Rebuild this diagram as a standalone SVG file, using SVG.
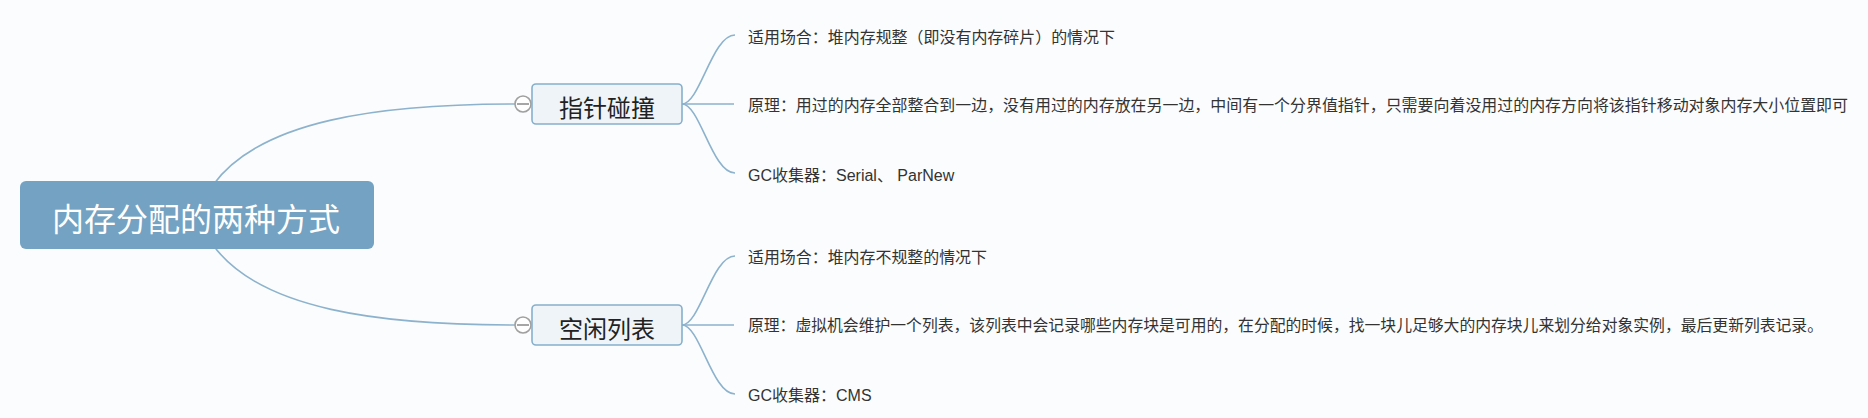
<svg xmlns="http://www.w3.org/2000/svg" width="1868" height="418" viewBox="0 0 1868 418">
<style>
.bg{fill:#fbfcfd}
.conn{fill:none;stroke:#8db2cd;stroke-width:1.6}
.root{fill:#74a2c2}
.roottext{font-family:"Noto Sans CJK SC","Liberation Sans",sans-serif;font-size:32px;fill:#ffffff}
.topic{fill:#eef4f8;stroke:#86afcc;stroke-width:1.6}
.topictext{font-family:"Noto Sans CJK SC","Liberation Sans",sans-serif;font-size:24px;fill:#222222}
.sub{font-family:"Liberation Sans","Noto Sans CJK SC",sans-serif;font-size:16px;fill:#333333}
.fold{fill:#ffffff;stroke:#a0a0a0;stroke-width:1.6}
.foldline{stroke:#909090;stroke-width:1.6}
</style>
<rect class="bg" x="0" y="0" width="1868" height="418"/>
<g id="connectors">
<path class="conn" d="M 213 185 C 260 120, 380 104, 515 104"/>
<path class="conn" d="M 213 245 C 260 310, 380 325, 515 325"/>
<path class="conn" d="M 682 104 C 700 104, 712 35, 735 35"/>
<path class="conn" d="M 682 104 L 734 104"/>
<path class="conn" d="M 682 104 C 700 104, 712 173, 735 173"/>
<path class="conn" d="M 682 325 C 700 325, 712 256, 735 256"/>
<path class="conn" d="M 682 325 L 734 325"/>
<path class="conn" d="M 682 325 C 700 325, 712 394, 735 394"/>
</g>
<g id="root">
<rect class="root" x="20" y="181" width="354" height="68" rx="6"/>
<text class="roottext" x="196" y="231" text-anchor="middle">内存分配的两种方式</text>
</g>
<g id="node-pointer">
<circle class="fold" cx="523" cy="104" r="8"/>
<line class="foldline" x1="517" y1="104" x2="529" y2="104"/>
<rect class="topic" x="532" y="84" width="150" height="40" rx="4"/>
<text class="topictext" x="607" y="117" text-anchor="middle">指针碰撞</text>
</g>
<g id="node-freelist">
<circle class="fold" cx="523" cy="325" r="8"/>
<line class="foldline" x1="517" y1="325" x2="529" y2="325"/>
<rect class="topic" x="532" y="305" width="150" height="40" rx="4"/>
<text class="topictext" x="607" y="338" text-anchor="middle">空闲列表</text>
</g>
<g id="leaf-1">
<text class="sub" x="748" y="43" textLength="367" lengthAdjust="spacingAndGlyphs">适用场合：堆内存规整（即没有内存碎片）的情况下</text>
</g>
<g id="leaf-2">
<text class="sub" x="748" y="111" textLength="1100" lengthAdjust="spacingAndGlyphs">原理：用过的内存全部整合到一边，没有用过的内存放在另一边，中间有一个分界值指针，只需要向着没用过的内存方向将该指针移动对象内存大小位置即可</text>
</g>
<g id="leaf-3">
<text class="sub" x="748" y="181">GC收集器：Serial、 ParNew</text>
</g>
<g id="leaf-4">
<text class="sub" x="748" y="263" textLength="239" lengthAdjust="spacingAndGlyphs">适用场合：堆内存不规整的情况下</text>
</g>
<g id="leaf-5">
<text class="sub" x="748" y="331" textLength="1075" lengthAdjust="spacingAndGlyphs">原理：虚拟机会维护一个列表，该列表中会记录哪些内存块是可用的，在分配的时候，找一块儿足够大的内存块儿来划分给对象实例，最后更新列表记录。</text>
</g>
<g id="leaf-6">
<text class="sub" x="748" y="401">GC收集器：CMS</text>
</g>
</svg>
